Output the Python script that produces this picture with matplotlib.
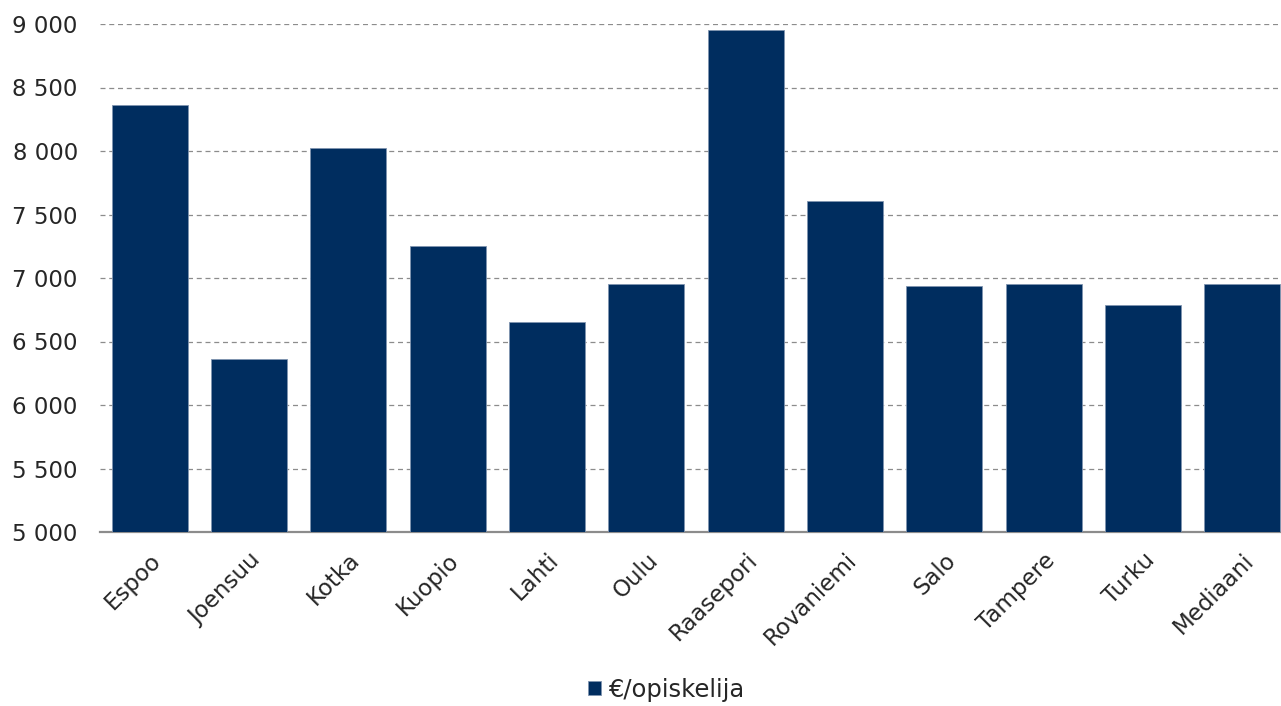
import matplotlib.pyplot as plt
from matplotlib.ticker import FuncFormatter

kaupungit = ["Espoo", "Joensuu", "Kotka", "Kuopio", "Lahti", "Oulu",
             "Raasepori", "Rovaniemi", "Salo", "Tampere", "Turku", "Mediaani"]
euroa_per_opiskelija = [8360, 6360, 8025, 7250, 6655, 6955,
                        8955, 7605, 6940, 6955, 6785, 6955]

plt.rcParams["font.family"] = ["DejaVu Sans"]

fig = plt.figure(figsize=(12.81, 7.06), dpi=100)
ax = fig.add_axes([100 / 1281, 174 / 706, 1192 / 1281, 508 / 706])

ax.bar(range(len(kaupungit)), euroa_per_opiskelija, width=0.765,
       color="#002D5F", edgecolor="#8094B0", linewidth=0.6,
       label="€/opiskelija", zorder=3)

ax.set_ylim(5000, 9000)
ax.set_xlim(-0.5, 11.5)
ax.set_yticks(range(5000, 9001, 500))
ax.yaxis.set_major_formatter(FuncFormatter(lambda v, p: f"{int(v):,}".replace(",", " ")))
ax.grid(axis="y", color="#8C8C8C", linestyle=(0, (4, 3)), linewidth=0.9, zorder=0)

for s in ["top", "right", "left"]:
    ax.spines[s].set_visible(False)
ax.spines["bottom"].set_color("#8C8C8C")
ax.spines["bottom"].set_linewidth(1.6)

ax.tick_params(axis="y", length=0, pad=16, labelsize=16.5, labelcolor="#262626")
ax.tick_params(axis="x", length=0, pad=12, labelsize=16.5, labelcolor="#262626")
ax.set_xticks(range(len(kaupungit)))
ax.set_xticklabels(kaupungit, rotation=45, ha="right", rotation_mode="anchor")

leg = fig.legend(loc="center", bbox_to_anchor=(0.52, 0.023), frameon=False,
                 handlelength=0.55, handleheight=0.55, handletextpad=0.3,
                 prop={"size": 17.5})
for t in leg.get_texts():
    t.set_color("#262626")

fig.savefig("out.png", dpi=100)
